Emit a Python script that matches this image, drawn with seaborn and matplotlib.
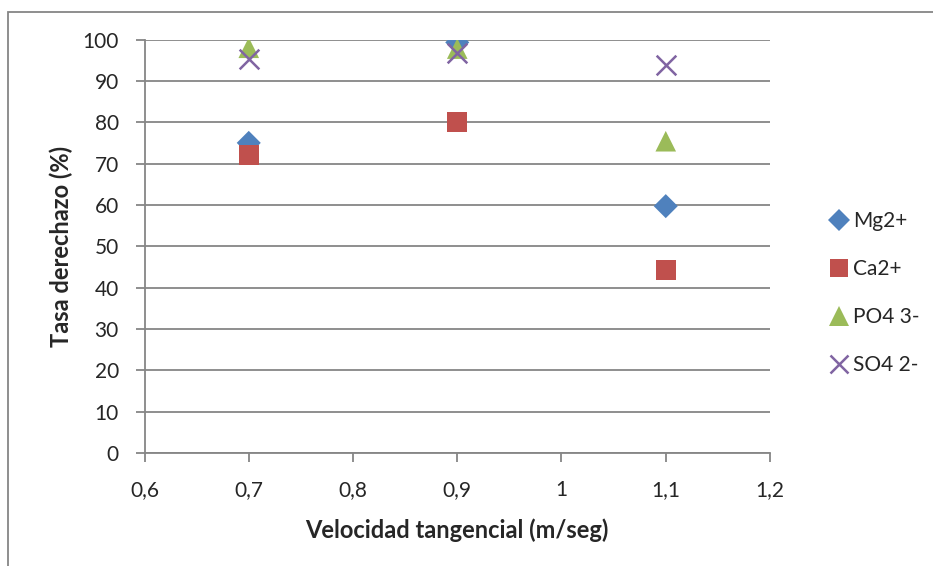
import matplotlib
matplotlib.use("Agg")
import matplotlib.pyplot as plt
import seaborn as sns
import pandas as pd
from matplotlib.patches import Rectangle
from matplotlib.lines import Line2D

velocidad = [0.7, 0.9, 1.1]
mg = [75.0, 99.3, 59.7]
ca = [72.0, 80.0, 44.2]
po4 = [98.0, 97.8, 75.4]
so4 = [95.3, 96.8, 93.8]
series_names = ["Mg2+", "Ca2+", "PO4 3-", "SO4 2-"]
x_ticks = [0.6, 0.7, 0.8, 0.9, 1.0, 1.1, 1.2]
x_labels = ["0,6", "0,7", "0,8", "0,9", "1", "1,1", "1,2"]
y_ticks = [0, 10, 20, 30, 40, 50, 60, 70, 80, 90, 100]

sns.set_theme(style="white")
plt.rcParams['font.family'] = ['Lato', 'DejaVu Sans']

colors = ["#4F81BD", "#C0504D", "#9BBB59", "#8064A2"]
markers = ["D", "s", "^", "x"]
sizes = [150, 200, 220, 200]

fig = plt.figure(figsize=(9.33, 5.66), dpi=100)
L, R, T, B = 144.5, 770, 39.5, 453
ax = fig.add_axes([L/933, 1-B/566, (R-L)/933, (B-T)/566])

data = [mg, ca, po4, so4]
for name, vals, c, m, s in zip(series_names, data, colors, markers, sizes):
    df = pd.DataFrame({"x": velocidad, "y": vals})
    if m == "x":
        sns.scatterplot(data=df, x="x", y="y", ax=ax, marker=m, color=c, s=s,
                        linewidth=1.8, zorder=3)
    else:
        sns.scatterplot(data=df, x="x", y="y", ax=ax, marker=m, color=c, s=s,
                        edgecolor="none", linewidth=0, zorder=3)

ax.set_xlim(0.6, 1.2)
ax.set_ylim(0, 100)
ax.set_xticks(x_ticks)
ax.set_xticklabels(x_labels)
ax.set_yticks(y_ticks)
ax.yaxis.grid(True, color="#868686", linewidth=1.3)
ax.xaxis.grid(False)
ax.set_axisbelow(True)
for sp in ["top", "right"]:
    ax.spines[sp].set_visible(False)
for sp in ["left", "bottom"]:
    ax.spines[sp].set_color("#868686")
    ax.spines[sp].set_linewidth(1.3)
ax.tick_params(axis="both", which="major", direction="out", length=6.5, width=1.3,
               color="#868686", labelsize=15, left=True, bottom=True)
ax.tick_params(axis="y", pad=12)
ax.tick_params(axis="x", pad=13)
ax.set_xlabel("Velocidad tangencial (m/seg)", fontsize=17, fontweight="bold")
ax.set_ylabel("Tasa derechazo (%)", fontsize=17, fontweight="bold")
ax.xaxis.set_label_coords(0.5, (B - 518) / (B - T))
ax.yaxis.set_label_coords((73 - L) / (R - L), 0.5)

handles = [Line2D([0], [0], marker=m, color=c, linestyle="none",
                  markersize=ms, markeredgewidth=(1.8 if m == "x" else 0))
           for m, c, ms in zip(markers, colors, [11, 13, 14, 13])]
fig.legend(handles, series_names, loc="center left", bbox_to_anchor=(818/933, 1-293/566),
           frameon=False, fontsize=15, labelspacing=1.35, handletextpad=0.1,
           handlelength=1.2, borderaxespad=0)

fig.patches.append(Rectangle((8/933, -0.1), 1.2, 1 - 12/566 + 0.1, transform=fig.transFigure,
                             fill=False, edgecolor="#868686", linewidth=1.3))

fig.savefig("out.png", dpi=100)
